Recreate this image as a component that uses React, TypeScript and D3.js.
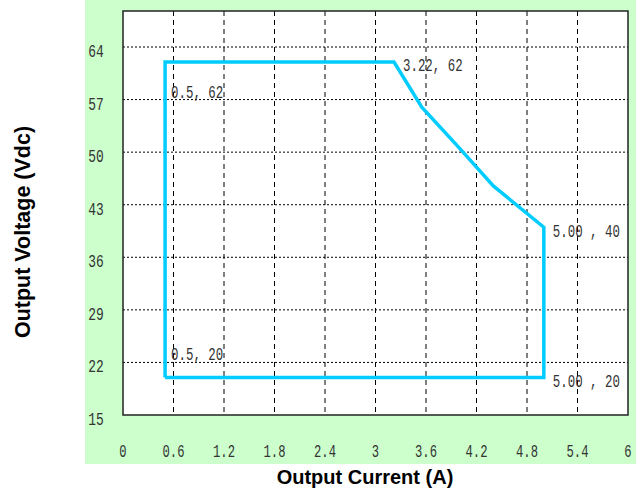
import React from "react";
import * as d3 from "d3";

const xTicks = [0, 0.6, 1.2, 1.8, 2.4, 3, 3.6, 4.2, 4.8, 5.4, 6];
const xTickLabels = ["0", "0.6", "1.2", "1.8", "2.4", "3", "3.6", "4.2", "4.8", "5.4", "6"];
const yTicks = [15, 22, 29, 36, 43, 50, 57, 64];

// Operating envelope: current (A) vs voltage (Vdc)
const envCurrent = [0.5, 0.5, 3.22, 3.55, 4.0, 4.4, 5.0, 5.0, 0.5];
const envVoltage = [20, 62, 62, 56, 50.5, 45.5, 40, 20, 20];

const cornerLabels = ["0.5, 62", "3.22, 62", "5.00 , 40", "0.5, 20", "5.00 , 20"];
const cornerCurrent = [0.5, 3.22, 5.0, 0.5, 5.0];
const cornerVoltage = [62, 62, 40, 20, 20];

const W = 636;
const H = 493;
const plot = { left: 123, right: 628, top: 11, bottom: 415 };

// Narrow monospace text: horizontally squeezed via transform
function Narrow(props: {
  x: number;
  y: number;
  text: string;
  size: number;
  sx: number;
  anchor?: "start" | "middle" | "end";
}) {
  return (
    <text
      transform={`translate(${props.x},${props.y}) scale(${props.sx},1)`}
      textAnchor={props.anchor ?? "start"}
      fontFamily="'Liberation Mono', 'DejaVu Sans Mono', monospace"
      fontSize={props.size}
      fill="#333"
    >
      {props.text}
    </text>
  );
}

export default function App() {
  const x = d3.scaleLinear().domain([0, 6]).range([plot.left, plot.right]);
  const y = d3.scaleLinear().domain([15, 64]).range([plot.bottom, 47]);

  const pts: [number, number][] = envCurrent.map((c, i) => [c, envVoltage[i]]);
  const line = d3
    .line<[number, number]>()
    .x((d) => x(d[0]))
    .y((d) => y(d[1]));

  // label placement relative to each corner point (dx, baseline dy)
  const labelOffsets: [number, number][] = [
    [6, 36],
    [9, 9],
    [9, 10],
    [6, -17],
    [9, 10],
  ];

  return (
    <svg
      width={W}
      height={H}
      style={{ position: "absolute", left: 0, top: 0, background: "#fff" }}
    >
      <rect x={85} y={0} width={W - 85} height={464} fill="#ccffcc" />
      <rect
        x={plot.left}
        y={plot.top}
        width={plot.right - plot.left}
        height={plot.bottom - plot.top}
        fill="#fff"
      />

      {/* grid */}
      {yTicks
        .filter((v) => v > 15)
        .map((v) => (
          <line
            key={"gy" + v}
            x1={plot.left}
            x2={plot.right}
            y1={y(v)}
            y2={y(v)}
            stroke="#000"
            strokeWidth={1}
            strokeDasharray="2,2"
          />
        ))}
      {xTicks
        .filter((v) => v > 0 && v < 6)
        .map((v) => (
          <line
            key={"gx" + v}
            x1={x(v)}
            x2={x(v)}
            y1={plot.top}
            y2={plot.bottom}
            stroke="#000"
            strokeWidth={1}
            strokeDasharray="5,4"
          />
        ))}

      {/* frame */}
      <rect
        x={plot.left}
        y={plot.top}
        width={plot.right - plot.left}
        height={plot.bottom - plot.top}
        fill="none"
        stroke="#222"
        strokeWidth={1.5}
      />

      {/* tick labels */}
      {yTicks.map((v) => (
        <Narrow
          key={"ty" + v}
          x={96}
          y={y(v) + 10}
          text={String(v)}
          size={19}
          sx={0.68}
          anchor="middle"
        />
      ))}
      {xTicks.map((v, i) => (
        <Narrow
          key={"tx" + v}
          x={x(v)}
          y={457}
          text={xTickLabels[i]}
          size={19}
          sx={0.64}
          anchor="middle"
        />
      ))}

      {/* envelope */}
      <path
        d={line(pts) ?? ""}
        fill="none"
        stroke="#00ccff"
        strokeWidth={3.5}
        strokeLinejoin="miter"
      />

      {/* corner annotations */}
      {cornerLabels.map((t, i) => (
        <Narrow
          key={"cl" + i}
          x={x(cornerCurrent[i]) + labelOffsets[i][0]}
          y={y(cornerVoltage[i]) + labelOffsets[i][1]}
          text={t}
          size={18}
          sx={0.69}
        />
      ))}

      {/* axis titles */}
      <text
        x={365}
        y={484}
        textAnchor="middle"
        fontFamily="'Liberation Sans', Arial, sans-serif"
        fontWeight="bold"
        fontSize={20}
        fill="#000"
      >
        Output Current (A)
      </text>
      <text
        transform={`translate(30,232) rotate(-90)`}
        textAnchor="middle"
        fontFamily="'Liberation Sans', Arial, sans-serif"
        fontWeight="bold"
        fontSize={21.5}
        fill="#000"
      >
        Output Voltage (Vdc)
      </text>
    </svg>
  );
}
